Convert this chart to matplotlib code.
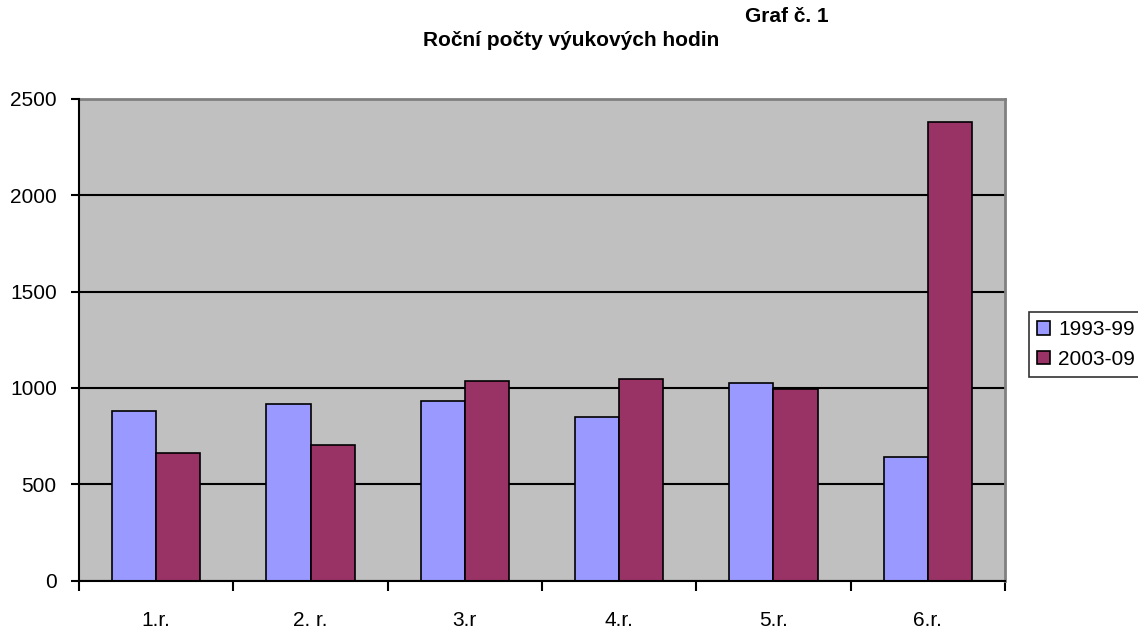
import matplotlib
matplotlib.use("Agg")
import matplotlib.pyplot as plt
from matplotlib.patches import Patch
import numpy as np

categories = ["1.r.", "2. r.", "3.r", "4.r.", "5.r.", "6.r."]
series_names = ["1993-99", "2003-09"]
values_1993 = [882, 915, 932, 849, 1025, 641]
values_2003 = [664, 705, 1036, 1046, 995, 2381]
yticks = [0, 500, 1000, 1500, 2000, 2500]

col_blue = "#9999FF"
col_red = "#993366"

plt.rcParams['font.family'] = ['Liberation Sans', 'DejaVu Sans']

fig = plt.figure(figsize=(11.38, 6.28), dpi=100)
W, H = 1138, 628
ax = fig.add_axes([79 / W, 1 - 580.5 / H, (1005 - 79) / W, (580.5 - 99) / H])
ax.set_facecolor("#C0C0C0")

x = np.arange(len(categories))
bw = 1 / 3.5
ax.bar(x - bw / 2, values_1993, width=bw, color=col_blue, edgecolor="black", linewidth=1.2, zorder=3)
ax.bar(x + bw / 2, values_2003, width=bw, color=col_red, edgecolor="black", linewidth=1.2, zorder=3)

ax.set_xlim(-0.5, len(categories) - 0.5)
ax.set_ylim(0, 2500)
ax.set_yticks(yticks)
ax.set_yticklabels([str(v) for v in yticks], fontsize=15)
ax.yaxis.grid(True, color="black", linewidth=1.5, zorder=1)
ax.set_axisbelow(True)

ax.set_xticks(np.arange(len(categories) + 1) - 0.5)
ax.set_xticklabels([])
ax.set_xticks(x, minor=True)
ax.set_xticklabels(categories, minor=True, fontsize=15)
ax.tick_params(axis='x', which='minor', length=0, pad=22)
ax.tick_params(axis='x', which='major', length=7, width=1.5, direction='out')
ax.tick_params(axis='y', length=6, width=1.5, direction='out', pad=10)

for s in ["left", "bottom"]:
    ax.spines[s].set_color("black")
    ax.spines[s].set_linewidth(1.5)
for s in ["top", "right"]:
    ax.spines[s].set_color("#808080")
    ax.spines[s].set_linewidth(2)
ax.spines["left"].set_zorder(5)
ax.spines["bottom"].set_zorder(5)

fig.text(571 / W, 1 - 41 / H, "Roční počty výukových hodin", ha="center", va="center",
         fontsize=15, fontweight="bold")
fig.text(787 / W, 1 - 16 / H, "Graf č. 1", ha="center", va="center",
         fontsize=15, fontweight="bold")

handles = [Patch(facecolor=col_blue, edgecolor="black", linewidth=1.2),
           Patch(facecolor=col_red, edgecolor="black", linewidth=1.2)]
leg = fig.legend(handles, series_names, loc="upper left",
                 bbox_to_anchor=(1029 / W, 1 - 312 / H), fontsize=15,
                 frameon=True, fancybox=False, edgecolor="black",
                 handlelength=0.6, handleheight=0.6, handletextpad=0.4,
                 borderpad=0.4, labelspacing=0.5, borderaxespad=0)
leg.get_frame().set_linewidth(1.2)

fig.savefig("out.png", dpi=100)
